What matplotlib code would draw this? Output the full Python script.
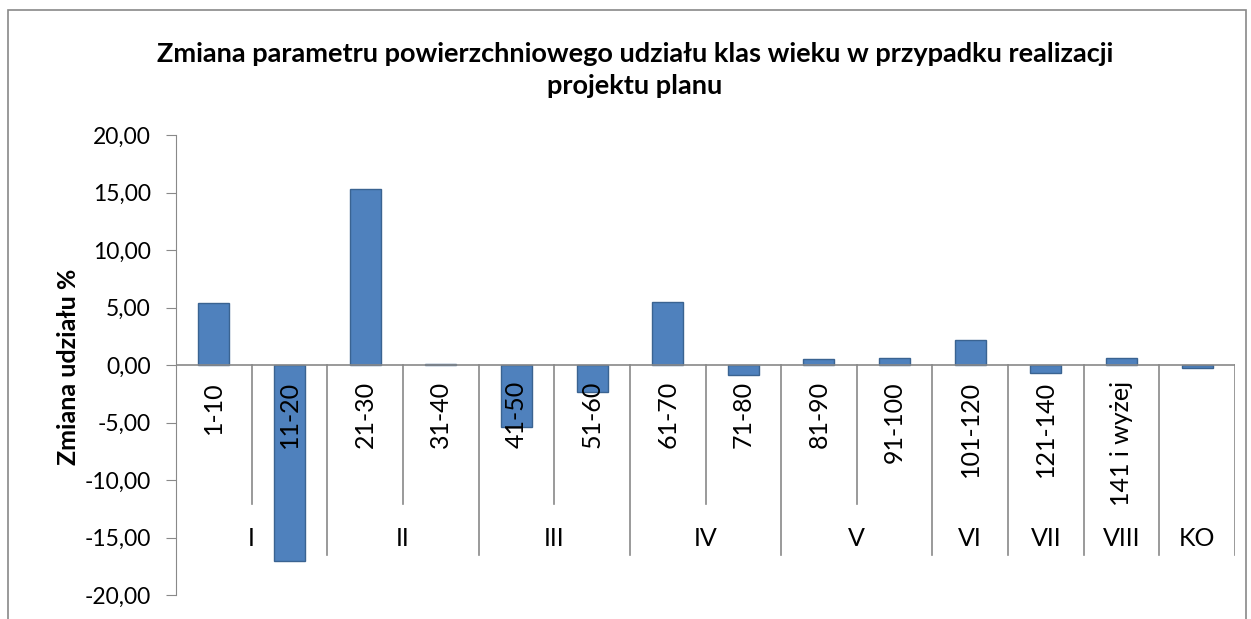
import matplotlib
matplotlib.use("Agg")
import matplotlib.pyplot as plt
from matplotlib.patches import Rectangle

# data
categories = ["1-10", "11-20", "21-30", "31-40", "41-50", "51-60", "61-70",
              "71-80", "81-90", "91-100", "101-120", "121-140", "141 i wyżej", ""]
groups = ["I", "I", "II", "II", "III", "III", "IV", "IV", "V", "V",
          "VI", "VII", "VIII", "KO"]
values = [5.42, -17.0, 15.28, 0.1, -5.42, -2.32, 5.5, -0.87, 0.5, 0.62,
          2.15, -0.7, 0.62, -0.25]
yticks = [20, 15, 10, 5, 0, -5, -10, -15, -20]

title = "Zmiana parametru powierzchniowego udziału klas wieku w przypadku realizacji\nprojektu planu"
ylabel = "Zmiana udziału %"

plt.rcParams['font.family'] = ['Lato', 'DejaVu Sans']
grey = "#898989"

W, H = 1251, 619
fig = plt.figure(figsize=(W / 100, H / 100), dpi=100)

# outer chart border (bottom edge is cut off in the reference)
fig.patches.append(Rectangle((8 / W, -0.05), (1246 - 8) / W, 1.05 - 10 / H,
                             transform=fig.transFigure, fill=False,
                             edgecolor=grey, linewidth=1.2))

ax = fig.add_axes([176 / W, 1 - 595 / H, (1235 - 176) / W, (595 - 135) / H])
x = list(range(len(values)))
ax.bar(x, values, width=0.41, color="#4F81BD", edgecolor="#3A6391", linewidth=1, zorder=2)

ax.set_xlim(-0.5, len(values) - 0.5)
ax.set_ylim(-20, 20)
ax.set_yticks(yticks)
ax.set_yticklabels([f"{v:.2f}".replace(".", ",") for v in yticks], fontsize=16.5)
ax.tick_params(axis="y", direction="out", length=7, color=grey, pad=11)
ax.set_xticks([])
for s in ["top", "right", "bottom"]:
    ax.spines[s].set_visible(False)
ax.spines["left"].set_color(grey)
ax.axhline(0, color=grey, linewidth=1.2, zorder=3)

# sub-category labels and separators
for i, lab in enumerate(categories):
    ax.text(i, -1.4, lab, rotation=90, ha="center", va="top", fontsize=18, zorder=4)

bounds = []
start = 0
for i in range(1, len(groups) + 1):
    if i == len(groups) or groups[i] != groups[start]:
        bounds.append((start, i - 1))
        start = i

for a, b in bounds:
    ax.text((a + b) / 2, -15.1, groups[a], ha="center", va="center", fontsize=18, zorder=4)
    ax.plot([b + 0.5, b + 0.5], [0, -16.5], color=grey, linewidth=1.2, zorder=1)
    for k in range(a, b):
        ax.plot([k + 0.5, k + 0.5], [0, -12.1], color=grey, linewidth=1.2, zorder=1)

fig.text(635 / W, 1 - 70 / H, title, ha="center", va="center",
         fontsize=19.5, fontweight="bold", linespacing=1.35)
fig.text(68 / W, 1 - 367 / H, ylabel, rotation=90, ha="center", va="center",
         fontsize=18, fontweight="bold")

fig.savefig("out.png", dpi=100)
